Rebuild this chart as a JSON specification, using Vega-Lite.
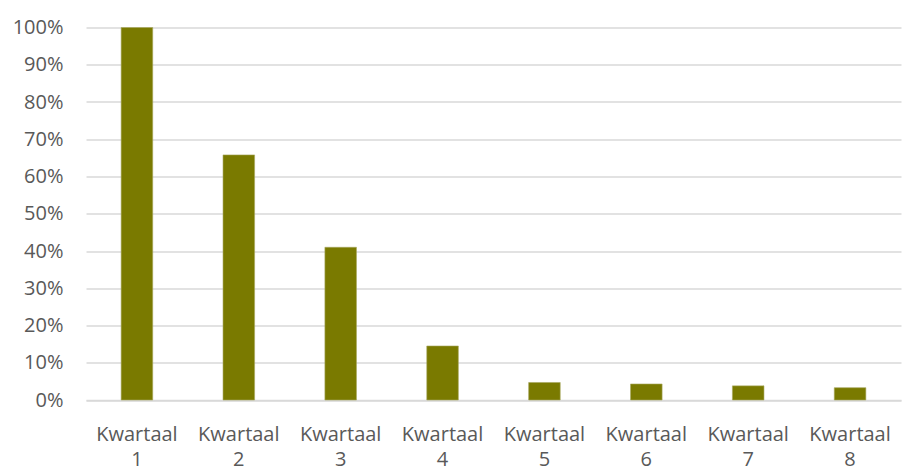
{
  "$schema": "https://vega.github.io/schema/vega-lite/v6.json",
  "autosize": "none",
  "width": 815,
  "height": 372.5,
  "padding": {"left": 86, "top": 27.5, "right": 2, "bottom": 70},
  "background": "white",
  "data": {"values": [
    {"kwartaal": "Kwartaal 1", "aandeel": 1.0},
    {"kwartaal": "Kwartaal 2", "aandeel": 0.658},
    {"kwartaal": "Kwartaal 3", "aandeel": 0.41},
    {"kwartaal": "Kwartaal 4", "aandeel": 0.145},
    {"kwartaal": "Kwartaal 5", "aandeel": 0.047},
    {"kwartaal": "Kwartaal 6", "aandeel": 0.043},
    {"kwartaal": "Kwartaal 7", "aandeel": 0.038},
    {"kwartaal": "Kwartaal 8", "aandeel": 0.033}
  ]},
  "config": {"view": {"stroke": null}},
  "mark": {"type": "bar", "color": "#7a7a00", "stroke": "#a8a860", "strokeWidth": 0.6},
  "encoding": {
    "x": {
      "field": "kwartaal", "type": "nominal", "sort": null,
      "scale": {"paddingInner": 0.69, "paddingOuter": 0.345},
      "axis": {
        "title": null, "labelAngle": 0, "ticks": false,
        "domain": true, "domainColor": "#d9d9d9", "domainWidth": 1.5,
        "labelExpr": "split(datum.value, ' ')",
        "labelFont": "Open Sans", "labelFontSize": 20, "labelColor": "#595959",
        "labelLineHeight": 25, "labelPadding": 34, "labelBaseline": "middle",
        "labelOverlap": false, "labelBound": false
      }
    },
    "y": {
      "field": "aandeel", "type": "quantitative",
      "scale": {"domain": [0, 1], "nice": false},
      "axis": {
        "title": null, "format": ".0%", "values": [0,0.1,0.2,0.3,0.4,0.5,0.6,0.7,0.8,0.9,1.0],
        "ticks": false, "domain": false,
        "gridColor": "#d9d9d9", "gridWidth": 1.5,
        "labelFont": "Open Sans", "labelFontSize": 20, "labelColor": "#595959",
        "labelPadding": 23, "labelOverlap": false, "labelBound": false
      }
    }
  }
}
